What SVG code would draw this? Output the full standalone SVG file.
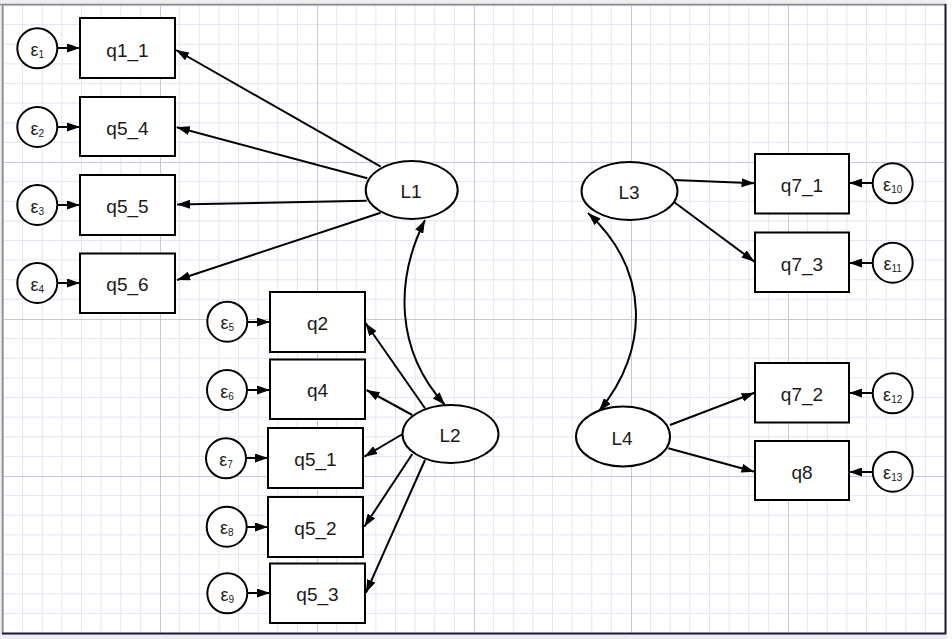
<svg xmlns="http://www.w3.org/2000/svg" width="952" height="639" viewBox="0 0 952 639">
<defs>
<pattern id="grid" x="3" y="5" width="157" height="157" patternUnits="userSpaceOnUse">
<path d="M19.625,0V157M39.25,0V157M58.875,0V157M78.5,0V157M98.125,0V157M117.75,0V157M137.375,0V157M0,19.625H157M0,39.25H157M0,58.875H157M0,78.5H157M0,98.125H157M0,117.75H157M0,137.375H157" fill="none" stroke="#e4e4f4" stroke-width="1"/>
<path d="M0.5,0V157M0,0.5H157" fill="none" stroke="#c6c6de" stroke-width="1"/>
</pattern>
<marker id="ah" markerUnits="userSpaceOnUse" markerWidth="13" markerHeight="9" viewBox="0 0 13 9" refX="13" refY="4.5" orient="auto-start-reverse">
<path d="M0,0L13,4.5L0,9z" fill="#000"/>
</marker>
</defs>
<style>
.box{fill:#fff;stroke:#000;stroke-width:2}
.lat{fill:#fff;stroke:#000;stroke-width:2}
.err{fill:#fff;stroke:#000;stroke-width:2}
.lbl{font-family:"Liberation Sans",Arial,sans-serif;font-size:19px;fill:#1a1a1a;text-anchor:middle}
.eps{font-family:"Liberation Sans",Arial,sans-serif;font-size:18px;fill:#1a1a1a;text-anchor:middle}
.sub{font-size:10px}
.con{fill:none;stroke:#000;stroke-width:2;marker-end:url(#ah)}
.cov{fill:none;stroke:#000;stroke-width:2;marker-start:url(#ah);marker-end:url(#ah)}
</style>
<rect x="0" y="0" width="952" height="639" fill="#eeeeee"/>
<rect x="3" y="5" width="942" height="628" fill="#fff"/>
<rect x="3" y="5" width="942" height="628" fill="url(#grid)"/>
<path d="M0,4.5H946" stroke="#8a8a8a" stroke-width="1.5"/>
<path d="M2.5,4V634" stroke="#8a8a8a" stroke-width="1.5"/>
<path d="M2,633.5H946" stroke="#1a1a3a" stroke-width="2"/>
<path d="M945.5,4V634" stroke="#1a1a3a" stroke-width="2"/>
<rect x="947" y="0" width="5" height="639" fill="#fff"/>

<g id="connectors">
<path class="con" d="M57,48H80"/>
<path class="con" d="M57,127H80"/>
<path class="con" d="M57,205H80"/>
<path class="con" d="M57,283H80"/>
<path class="con" d="M247,322H270"/>
<path class="con" d="M247,390H270"/>
<path class="con" d="M246,458H268"/>
<path class="con" d="M247,527H268"/>
<path class="con" d="M247,593H270"/>
<path class="con" d="M873,183H849"/>
<path class="con" d="M873,263H849"/>
<path class="con" d="M873,393H849"/>
<path class="con" d="M873,472H849"/>
<path class="con" d="M380.7,166.7L176,50"/>
<path class="con" d="M367.3,178.3L176.7,127.3"/>
<path class="con" d="M366.7,200.7L177,204.5"/>
<path class="con" d="M380.7,212.7L177,280"/>
<path class="con" d="M425,408.3L365.5,323"/>
<path class="con" d="M412.3,415L366.5,390"/>
<path class="con" d="M402.7,434L364.3,456.7"/>
<path class="con" d="M412.3,454L364.3,526.7"/>
<path class="con" d="M425,460L366,592.7"/>
<path class="con" d="M674.3,180L754.5,183.3"/>
<path class="con" d="M674.3,202.3L754.5,261.7"/>
<path class="con" d="M670,425L754.5,392.7"/>
<path class="con" d="M668.3,448.3L754.5,471.7"/>
<path class="cov" d="M425,220C395,280 395,350 445,405"/>
<path class="cov" d="M588,213C650,270 650,350 599,411"/>
</g>

<g id="q1_1"><rect class="box" x="80" y="18" width="95" height="60"/><text class="lbl" x="127.5" y="56.5">q1_1</text></g>
<g id="q5_4"><rect class="box" x="80" y="97" width="95" height="59"/><text class="lbl" x="127.5" y="135">q5_4</text></g>
<g id="q5_5"><rect class="box" x="80" y="175" width="95" height="60"/><text class="lbl" x="127.5" y="213">q5_5</text></g>
<g id="q5_6"><rect class="box" x="80" y="253.5" width="95" height="59.5"/><text class="lbl" x="127.5" y="291">q5_6</text></g>

<g id="q2"><rect class="box" x="270" y="292" width="95" height="60"/><text class="lbl" x="317.5" y="330">q2</text></g>
<g id="q4"><rect class="box" x="270" y="359.5" width="95" height="59.5"/><text class="lbl" x="317.5" y="397">q4</text></g>
<g id="q5_1"><rect class="box" x="268" y="428" width="95" height="60"/><text class="lbl" x="315.5" y="466">q5_1</text></g>
<g id="q5_2"><rect class="box" x="268" y="497" width="95" height="60"/><text class="lbl" x="315.5" y="535">q5_2</text></g>
<g id="q5_3"><rect class="box" x="270" y="563.5" width="95" height="59.5"/><text class="lbl" x="317.5" y="601">q5_3</text></g>

<g id="q7_1"><rect class="box" x="755" y="154" width="94" height="59.5"/><text class="lbl" x="802" y="191.5">q7_1</text></g>
<g id="q7_3"><rect class="box" x="755" y="232.5" width="94" height="59.5"/><text class="lbl" x="802" y="270.5">q7_3</text></g>
<g id="q7_2"><rect class="box" x="755" y="363" width="94" height="59.5"/><text class="lbl" x="802" y="401">q7_2</text></g>
<g id="q8"><rect class="box" x="755" y="441" width="94" height="59"/><text class="lbl" x="802" y="479">q8</text></g>

<g id="L1"><ellipse class="lat" cx="411.7" cy="190" rx="46" ry="29"/><text class="lbl" x="411" y="198">L1</text></g>
<g id="L2"><ellipse class="lat" cx="450.5" cy="434" rx="48" ry="29"/><text class="lbl" x="450" y="442">L2</text></g>
<g id="L3"><ellipse class="lat" cx="629.5" cy="191" rx="48" ry="29"/><text class="lbl" x="629" y="199">L3</text></g>
<g id="L4"><ellipse class="lat" cx="623" cy="436.5" rx="47" ry="30"/><text class="lbl" x="622" y="444.5">L4</text></g>

<g id="e1"><circle class="err" cx="37.3" cy="48.3" r="20"/><text class="eps" x="37.3" y="56">ε<tspan class="sub" dy="2">1</tspan></text></g>
<g id="e2"><circle class="err" cx="37.3" cy="127" r="20"/><text class="eps" x="37.3" y="134.7">ε<tspan class="sub" dy="2">2</tspan></text></g>
<g id="e3"><circle class="err" cx="37.3" cy="205" r="20"/><text class="eps" x="37.3" y="212.7">ε<tspan class="sub" dy="2">3</tspan></text></g>
<g id="e4"><circle class="err" cx="37.3" cy="283" r="20"/><text class="eps" x="37.3" y="290.7">ε<tspan class="sub" dy="2">4</tspan></text></g>
<g id="e5"><circle class="err" cx="227.3" cy="321.7" r="20"/><text class="eps" x="227.3" y="329.4">ε<tspan class="sub" dy="2">5</tspan></text></g>
<g id="e6"><circle class="err" cx="227" cy="390" r="20"/><text class="eps" x="227" y="397.7">ε<tspan class="sub" dy="2">6</tspan></text></g>
<g id="e7"><circle class="err" cx="226" cy="458.3" r="20"/><text class="eps" x="226" y="466">ε<tspan class="sub" dy="2">7</tspan></text></g>
<g id="e8"><circle class="err" cx="226.7" cy="526.7" r="20"/><text class="eps" x="226.7" y="534.4">ε<tspan class="sub" dy="2">8</tspan></text></g>
<g id="e9"><circle class="err" cx="227.3" cy="593.3" r="20"/><text class="eps" x="227.3" y="601">ε<tspan class="sub" dy="2">9</tspan></text></g>
<g id="e10"><circle class="err" cx="892.7" cy="183.3" r="20"/><text class="eps" x="892.7" y="191">ε<tspan class="sub" dy="2">10</tspan></text></g>
<g id="e11"><circle class="err" cx="892.7" cy="262.7" r="20"/><text class="eps" x="892.7" y="270.4">ε<tspan class="sub" dy="2">11</tspan></text></g>
<g id="e12"><circle class="err" cx="892.7" cy="393.3" r="20"/><text class="eps" x="892.7" y="401">ε<tspan class="sub" dy="2">12</tspan></text></g>
<g id="e13"><circle class="err" cx="892.7" cy="471.7" r="20"/><text class="eps" x="892.7" y="479.4">ε<tspan class="sub" dy="2">13</tspan></text></g>
</svg>
